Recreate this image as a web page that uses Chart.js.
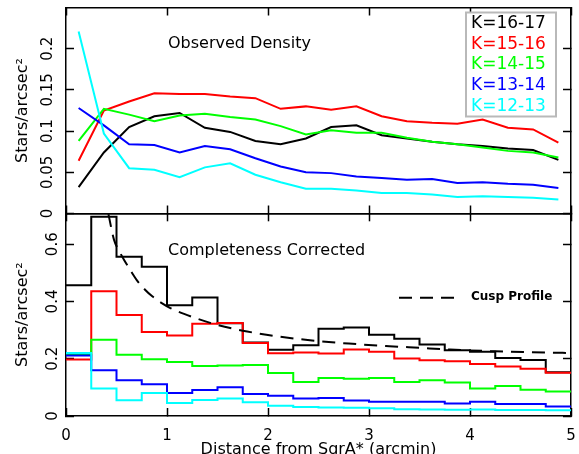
<!DOCTYPE html>
<html>
<head>
<meta charset="utf-8">
<title>Observed and completeness corrected star densities</title>
<script src="https://cdn.jsdelivr.net/npm/chart.js@4.4.1/dist/chart.umd.min.js"></script>
<style>
  html, body { margin: 0; padding: 0; background: #fff; overflow: hidden; }
  #wrap { position: relative; width: 579px; height: 454px; }
  .panel { position: absolute; left: 0; }
  #topPanel { top: 0; }
  #bottomPanel { top: 200px; }
</style>
</head>
<body>
<div id="wrap">
  <div class="panel" id="topPanel"><canvas id="observedChart" width="579" height="240"></canvas></div>
  <div class="panel" id="bottomPanel"><canvas id="correctedChart" width="579" height="259"></canvas></div>
</div>
<script>
// ---- data ----
const bandLabels = ['K=16-17', 'K=15-16', 'K=14-15', 'K=13-14', 'K=12-13'];

// radial bins (arcmin)
const binCenters = [0.125, 0.375, 0.625, 0.875, 1.125, 1.375, 1.625, 1.875, 2.125, 2.375,
                    2.625, 2.875, 3.125, 3.375, 3.625, 3.875, 4.125, 4.375, 4.625, 4.875];
const binEdges = [0, 0.25, 0.5, 0.75, 1, 1.25, 1.5, 1.75, 2, 2.25, 2.5,
                  2.75, 3, 3.25, 3.5, 3.75, 4, 4.25, 4.5, 4.75, 5];

// observed density (stars/arcsec^2)
const obsK16_17 = [0.032, 0.074, 0.105, 0.118, 0.122, 0.104, 0.099, 0.088, 0.084, 0.091,
                   0.105, 0.107, 0.095, 0.091, 0.087, 0.084, 0.082, 0.079, 0.077, 0.065];
const obsK15_16 = [0.064, 0.125, 0.136, 0.146, 0.145, 0.145, 0.142, 0.140, 0.127, 0.130,
                   0.126, 0.130, 0.118, 0.112, 0.110, 0.109, 0.114, 0.104, 0.102, 0.086];
const obsK14_15 = [0.088, 0.127, 0.120, 0.112, 0.119, 0.121, 0.117, 0.114, 0.106, 0.096,
                   0.101, 0.098, 0.098, 0.092, 0.087, 0.084, 0.080, 0.076, 0.074, 0.068];
const obsK13_14 = [0.128, 0.107, 0.084, 0.083, 0.074, 0.082, 0.078, 0.067, 0.057, 0.050,
                   0.049, 0.045, 0.043, 0.041, 0.042, 0.037, 0.038, 0.036, 0.035, 0.031];
const obsK12_13 = [0.221, 0.097, 0.055, 0.053, 0.044, 0.056, 0.061, 0.047, 0.038, 0.030,
                   0.030, 0.028, 0.025, 0.025, 0.023, 0.020, 0.021, 0.020, 0.019, 0.017];

// completeness corrected density, one value per bin
const corK16_17 = [0.457, 0.696, 0.556, 0.521, 0.387, 0.414, 0.324, 0.257, 0.231, 0.247,
                   0.305, 0.309, 0.284, 0.270, 0.250, 0.230, 0.224, 0.203, 0.196, 0.153];
const corK15_16 = [0.197, 0.436, 0.353, 0.293, 0.281, 0.322, 0.325, 0.255, 0.219, 0.222,
                   0.218, 0.232, 0.224, 0.201, 0.195, 0.191, 0.182, 0.173, 0.165, 0.151];
const corK14_15 = [0.216, 0.266, 0.214, 0.198, 0.189, 0.175, 0.176, 0.178, 0.150, 0.119,
                   0.133, 0.130, 0.133, 0.119, 0.125, 0.117, 0.096, 0.105, 0.092, 0.086];
const corK13_14 = [0.211, 0.160, 0.125, 0.111, 0.080, 0.091, 0.100, 0.077, 0.071, 0.061,
                   0.063, 0.054, 0.050, 0.050, 0.050, 0.044, 0.050, 0.042, 0.042, 0.033];
const corK12_13 = [0.220, 0.096, 0.055, 0.080, 0.045, 0.056, 0.061, 0.048, 0.036, 0.031,
                   0.030, 0.029, 0.027, 0.024, 0.023, 0.022, 0.023, 0.021, 0.021, 0.020];

// cusp model curve
const cuspR       = [0.42, 0.475, 0.53, 0.584, 0.65, 0.71, 0.78, 0.854, 0.94, 1.033, 1.25,
                     1.5, 1.75, 2.0, 2.35, 2.8, 3.2, 3.5, 3.8, 4.25, 4.6, 5.0];
const cuspDensity = [0.705, 0.616, 0.574, 0.540, 0.502, 0.470, 0.442, 0.418, 0.396, 0.377, 0.346,
                     0.318, 0.298, 0.283, 0.267, 0.253, 0.244, 0.238, 0.232, 0.226, 0.223, 0.220];

// tick labels
const xTicks = [0, 1, 2, 3, 4, 5];
const topYTicks = [0, 0.05, 0.1, 0.15, 0.2];
const bottomYTicks = [0, 0.2, 0.4, 0.6];

// ---- styling ----
const bandColors = ['#000000', '#ff0000', '#00ff00', '#0000ff', '#00ffff'];
const FONT = "'DejaVu Sans', sans-serif";
Chart.defaults.font.family = FONT;
Chart.defaults.color = '#000';
Chart.defaults.animation = false;

const AXIS_W = 66; // room left of the frame for ticks + title

// force a scale's size and drop the extra padding chart.js adds for edge labels
function pinSize(width, height) {
  return function (scale) {
    if (width !== null) scale.width = width;
    if (height !== null) scale.height = height;
    scale.paddingTop = scale.paddingBottom = scale.paddingLeft = scale.paddingRight = 0;
  };
}
function useTicks(values) {
  return function (scale) { scale.ticks = values.map(v => ({ value: v })); };
}
const fmt = v => String(+Number(v).toFixed(2));
// pgplot style: ticks point into the frame
const innerGrid = { drawOnChartArea: false, drawTicks: true, tickLength: -8, tickWidth: 1.5, tickColor: '#000' };
const frameBorder = { display: true, color: '#000', width: 1.5 };

function yAxis(max, ticks) {
  return {
    type: 'linear', min: 0, max: max,
    afterBuildTicks: useTicks(ticks),
    afterFit: pinSize(AXIS_W, null),
    grid: innerGrid, border: frameBorder,
    ticks: { minRotation: 90, maxRotation: 90, crossAlign: 'center', padding: 9, font: { size: 15 }, callback: fmt },
    title: { display: true, text: 'Stars/arcsec²', font: { size: 16 }, padding: { top: 13, bottom: 0 } }
  };
}
function sideAxis(position, max, ticks) {
  return {
    type: 'linear', position: position, min: 0, max: max,
    afterBuildTicks: useTicks(ticks),
    afterFit: position === 'right' ? pinSize(0, null) : pinSize(null, 0),
    grid: innerGrid, border: frameBorder,
    ticks: { display: false }
  };
}

// little text annotations drawn on top of each panel
function labelPlugin(id, draw) {
  return { id: id, afterDraw: function (chart) { const ctx = chart.ctx; ctx.save(); draw(chart, ctx); ctx.restore(); } };
}

const observedNotes = labelPlugin('observedNotes', function (chart, ctx) {
  const area = chart.chartArea;
  ctx.font = '16px ' + FONT;
  ctx.textBaseline = 'middle';
  ctx.fillStyle = '#000';
  ctx.fillText('Observed Density', area.left + 102, area.top + 36);

  // boxed legend, coloured text only
  const left = area.right - 105, top = area.top + 5, w = 90, h = 104;
  ctx.fillStyle = '#fff';
  ctx.fillRect(left, top, w, h);
  ctx.strokeStyle = '#b9b9b9';
  ctx.lineWidth = 2;
  ctx.strokeRect(left, top, w, h);
  ctx.font = '17px ' + FONT;
  chart.data.datasets.forEach(function (ds, i) {
    ctx.fillStyle = ds.borderColor;
    ctx.fillText(ds.label, left + 5, top + 11 + i * 20.75);
  });
});

const correctedNotes = labelPlugin('correctedNotes', function (chart, ctx) {
  const area = chart.chartArea;
  ctx.font = '16px ' + FONT;
  ctx.textBaseline = 'middle';
  ctx.fillStyle = '#000';
  ctx.fillText('Completeness Corrected', area.left + 102, area.top + 38);

  const cusp = chart.data.datasets.find(ds => ds.label === 'Cusp Profile');
  ctx.strokeStyle = '#000';
  ctx.lineWidth = 2;
  ctx.setLineDash(cusp.borderDash);
  ctx.beginPath();
  ctx.moveTo(area.left + 333, area.top + 84.5);
  ctx.lineTo(area.left + 390, area.top + 84.5);
  ctx.stroke();
  ctx.setLineDash([]);
  ctx.font = 'bold 12px ' + FONT;
  ctx.fillText(cusp.label, area.left + 405, area.top + 84);
});

// ---- top panel: observed density ----
const observedSeries = [obsK16_17, obsK15_16, obsK14_15, obsK13_14, obsK12_13];
new Chart(document.getElementById('observedChart'), {
  type: 'line',
  data: {
    datasets: observedSeries.map(function (vals, i) {
      return {
        label: bandLabels[i],
        data: vals.map((y, j) => ({ x: binCenters[j], y: y })),
        borderColor: bandColors[i], borderWidth: 2, pointRadius: 0, tension: 0, fill: false,
        order: observedSeries.length - i
      };
    })
  },
  options: {
    responsive: false,
    layout: { padding: { left: 0, right: 8, top: 7.5, bottom: 26.5 } },
    plugins: { legend: { display: false }, tooltip: { enabled: false } },
    scales: {
      x: {
        type: 'linear', min: 0, max: 5,
        afterBuildTicks: useTicks(xTicks),
        afterFit: pinSize(null, 0),
        grid: innerGrid, border: frameBorder,
        ticks: { display: false }
      },
      x2: sideAxis('top', 5, xTicks),
      y: yAxis(0.25, topYTicks),
      y2: sideAxis('right', 0.25, topYTicks)
    }
  },
  plugins: [observedNotes]
});

// ---- bottom panel: completeness corrected ----
const correctedSeries = [corK16_17, corK15_16, corK14_15, corK13_14, corK12_13];
const correctedSets = correctedSeries.map(function (vals, i) {
  return {
    label: bandLabels[i],
    // one point per bin edge; the last edge repeats the last bin so the step reaches 5'
    data: binEdges.map((x, j) => ({ x: x, y: vals[Math.min(j, vals.length - 1)] })),
    borderColor: bandColors[i], borderWidth: 2, pointRadius: 0, stepped: 'before', fill: false,
    order: correctedSeries.length - i
  };
});
correctedSets.push({
  label: 'Cusp Profile',
  data: cuspR.map((x, j) => ({ x: x, y: cuspDensity[j] })),
  borderColor: '#000', borderWidth: 2, borderDash: [13, 8], pointRadius: 0,
  cubicInterpolationMode: 'monotone', fill: false,
  order: 0
});

new Chart(document.getElementById('correctedChart'), {
  type: 'line',
  data: { datasets: correctedSets },
  options: {
    responsive: false,
    layout: { padding: { left: 0, right: 8, top: 13.3, bottom: 0 } },
    plugins: { legend: { display: false }, tooltip: { enabled: false } },
    scales: {
      x: {
        type: 'linear', min: 0, max: 5,
        afterBuildTicks: useTicks(xTicks),
        afterFit: pinSize(null, 43),
        grid: innerGrid, border: frameBorder,
        ticks: { padding: 19, maxRotation: 0, font: { size: 15 }, callback: fmt },
        title: { display: true, text: 'Distance from SgrA* (arcmin)', font: { size: 16 }, padding: { top: 0, bottom: 0 } }
      },
      x2: sideAxis('top', 5, xTicks),
      y: yAxis(0.708, bottomYTicks),
      y2: sideAxis('right', 0.708, bottomYTicks)
    }
  },
  plugins: [correctedNotes]
});
</script>
</body>
</html>
